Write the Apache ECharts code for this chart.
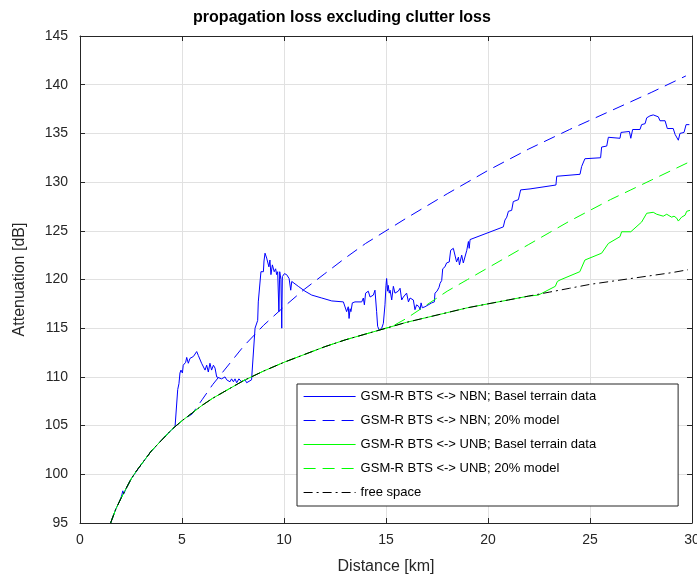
<!DOCTYPE html>
<html>
<head>
<meta charset="utf-8">
<script src="https://cdn.jsdelivr.net/npm/echarts@6/dist/echarts.min.js"></script>
<style>html,body{margin:0;padding:0;background:#fff}#c{width:697px;height:578px}</style>
</head>
<body>
<div id="c"></div>
<script>
// ---- data (distance km, attenuation dB) ----
const fsDist = [1.5,1.75,2,2.25,2.5,2.75,3,3.5,4,4.5,5,5.5,6,6.5,7,7.5,8,9,10,11,12,13,14,15,16,17,18,19,20,21,22,23,24,25,26,27,28,29,29.8];
const fsAtt  = [95.0,96.4,97.5,98.5,99.5,100.3,101.0,102.4,103.5,104.6,105.5,106.3,107.1,107.8,108.4,109.0,109.6,110.6,111.5,112.3,113.1,113.8,114.4,115.0,115.6,116.1,116.6,117.1,117.5,117.9,118.3,118.7,119.1,119.5,119.8,120.1,120.4,120.7,121.0];

const nbnTerrDist = [1.5,1.75,2,2.05,2.1,2.15,2.25,2.5,3,3.5,4,4.5,4.66,4.79,4.85,4.90,4.95,5.02,5.06,5.18,5.23,5.31,5.39,5.47,5.56,5.72,5.80,5.88,5.96,6.05,6.13,6.21,6.29,6.37,6.45,6.54,6.62,6.70,6.94,7.11,7.19,7.27,7.35,7.43,7.52,7.60,7.68,7.79,7.92,8.09,8.17,8.41,8.50,8.58,8.71,8.74,8.82,8.87,8.94,8.99,9.02,9.07,9.12,9.15,9.20,9.26,9.31,9.36,9.43,9.49,9.52,9.59,9.64,9.69,9.75,9.79,9.85,9.89,9.92,10.02,10.13,10.25,10.33,10.38,10.46,10.70,11.03,11.36,11.85,12.34,12.91,13.0,13.07,13.15,13.19,13.24,13.28,13.35,13.42,13.48,13.81,13.89,13.94,14.0,14.13,14.22,14.38,14.46,14.54,14.59,14.67,14.79,14.87,14.95,15.0,15.03,15.08,15.11,15.16,15.2,15.28,15.36,15.44,15.52,15.60,15.69,15.77,15.85,16.01,16.1,16.18,16.34,16.42,16.50,16.62,16.67,16.72,16.78,16.91,17.24,17.37,17.40,17.5,17.6,17.65,17.73,17.78,17.89,17.97,18.1,18.17,18.30,18.38,18.46,18.55,18.6,18.66,18.71,18.79,18.87,18.96,19.04,19.08,19.12,19.2,20.75,20.83,20.92,21.0,21.16,21.24,21.49,21.6,22.06,23.33,23.37,24.51,24.59,24.75,24.84,25.52,25.57,25.82,25.90,26.47,26.52,26.93,27.0,27.09,27.45,27.53,27.70,27.78,27.94,28.10,28.19,28.35,28.43,28.68,28.79,29.08,29.17,29.25,29.33,29.41,29.61,29.71,29.87];
const nbnTerrAtt  = [95.0,96.4,97.5,97.9,98.3,98.0,98.5,99.5,101.0,102.4,103.5,104.6,104.9,108.7,109.3,110.4,110.7,110.4,111.2,111.5,112.0,111.4,111.9,111.7,112.1,112.6,112.2,112.1,111.4,111.6,110.7,111.2,110.5,111.4,110.7,111.2,110.9,110.0,109.8,110.0,109.7,109.8,109.5,109.8,109.5,109.8,109.4,109.8,109.5,109.7,109.4,109.7,109.9,115.0,115.8,117.7,117.7,120.8,120.9,120.8,121.9,122.7,122.5,122.2,122.0,121.3,122.0,120.5,121.5,121.3,120.8,121.1,120.5,120.8,116.7,120.8,120.0,115.0,120.3,120.6,120.5,120.1,118.9,119.8,119.6,119.3,118.8,118.4,118.1,117.8,117.7,117.6,116.7,117.2,116.0,117.0,116.7,117.6,117.4,117.7,117.7,118.1,117.4,118.6,118.8,118.2,118.4,118.9,116.7,115.2,114.8,115.0,115.5,117.4,119.4,120.1,118.8,119.4,118.6,118.9,117.9,119.3,118.6,118.4,118.8,119.1,117.9,118.2,118.6,117.7,118.1,117.9,116.9,117.4,117.2,116.9,117.6,117.1,117.2,117.6,117.7,118.6,118.8,119.2,119.6,119.9,121.1,121.3,121.7,121.8,123.0,123.2,123.1,121.8,122.3,121.5,121.7,122.5,121.7,121.8,123.0,123.9,123.2,124.1,124.2,125.4,126.1,126.4,127.0,127.1,128.0,128.2,129.2,129.3,129.7,130.6,130.8,131.6,132.4,132.5,132.5,133.6,133.7,134.6,134.5,135.1,135.2,134.5,135.4,135.4,135.9,136.0,136.6,136.8,136.9,136.7,136.7,136.3,136.3,135.5,135.5,134.9,134.9,134.3,135.0,135.1,135.9,135.9];

const nbnModelDist = [5.5,6,6.5,7,7.5,8,9,10,11,12,13,14,15,16,18,20,22,24,26,28,29.7];
const nbnModelAtt  = [106.2,107.7,109.2,110.5,111.8,113.1,115.3,117.2,119.0,120.6,122.2,123.7,125.0,126.3,128.8,131.2,133.4,135.4,137.3,139.2,140.9];

const unbTerrDist = [22.47,23.3,23.4,23.53,24.5,24.75,25.57,25.9,26.47,26.55,27.0,27.53,27.78,28.1,28.27,28.43,28.59,28.76,29.0,29.12,29.25,29.33,29.49,29.66,29.74,29.9];
const unbTerrAtt  = [118.4,119.3,119.8,119.95,120.8,122.0,122.7,123.7,124.4,124.9,124.9,125.9,126.8,126.9,126.7,126.6,126.5,126.7,126.4,126.5,126.3,126.0,126.4,126.6,127.0,127.1];

const unbModelDist = [15.4,16,17,18,19,20,21,22,23,24,25,26,27,28,29,29.9];
const unbModelAtt  = [115.3,116.0,117.4,118.8,120.0,121.2,122.4,123.6,124.8,126.0,127.1,128.2,129.2,130.2,131.2,132.1];

const xTicks = [0,5,10,15,20,25,30];
const yTicks = [95,100,105,110,115,120,125,130,135,140,145];

const seriesNames = [
  'GSM-R BTS <-> NBN; Basel terrain data',
  'GSM-R BTS <-> NBN; 20% model',
  'GSM-R BTS <-> UNB; Basel terrain data',
  'GSM-R BTS <-> UNB; 20% model',
  'free space'
];

// ---- build ----
const zip = (a, b) => a.map((v, i) => [v, b[i]]);
const fsPairs = zip(fsDist, fsAtt);
const fsUpTo = lim => fsPairs.filter(p => p[0] < lim);

const nbnTerr = zip(nbnTerrDist, nbnTerrAtt);
const nbnModel = fsUpTo(nbnModelDist[0]).concat(zip(nbnModelDist, nbnModelAtt));
const unbTerr = fsUpTo(unbTerrDist[0]).concat(zip(unbTerrDist, unbTerrAtt));
const unbModel = fsUpTo(unbModelDist[0]).concat(zip(unbModelDist, unbModelAtt));

const FONT = 'Liberation Sans, Arial, Helvetica, sans-serif';
const AX = '#262626';

function mkSeries(name, data, color, type) {
  return {
    name, type: 'line', data, symbol: 'none', showSymbol: false,
    lineStyle: { color, width: 1, type },
    itemStyle: { color },
    emphasis: { disabled: true },
    clip: true
  };
}

const chart = echarts.init(document.getElementById('c'), null, { renderer: 'canvas' });
const baseX = { type: 'value', min: xTicks[0], max: xTicks[xTicks.length - 1], interval: 5 };
const baseY = { type: 'value', min: yTicks[0], max: yTicks[yTicks.length - 1], interval: 5 };
chart.setOption({
  animation: false,
  backgroundColor: '#fff',
  title: {
    text: 'propagation loss excluding clutter loss',
    left: 337, top: 5, textAlign: 'center',
    textStyle: { fontFamily: FONT, fontSize: 16, fontWeight: 'bold', color: '#000' }
  },
  grid: { left: 80, right: 5, top: 36, bottom: 55, show: false, containLabel: false, outerBoundsMode: 'none' },
  legend: {
    orient: 'vertical', left: 297, top: 384,
    itemWidth: 52, itemHeight: 13, itemGap: 11,
    padding: [6, 82, 7, 6],
    backgroundColor: '#fff', borderColor: AX, borderWidth: 1,
    textStyle: { fontFamily: FONT, fontSize: 13, color: '#000' },
    itemStyle: { opacity: 0 },
    lineStyle: { width: 1.2 },
    selectedMode: false,
    data: seriesNames
  },
  xAxis: [
    Object.assign({}, baseX, {
      position: 'bottom',
      name: 'Distance [km]', nameLocation: 'middle', nameGap: 36,
      nameTextStyle: { fontFamily: FONT, fontSize: 16, color: AX },
      axisLine: { show: true, lineStyle: { color: AX, width: 1 } },
      axisTick: { show: true, inside: true, length: 5, lineStyle: { color: AX } },
      axisLabel: { fontFamily: FONT, fontSize: 14, color: AX, margin: 10 },
      splitLine: { show: true, lineStyle: { color: '#e1e1e1', width: 1 } }
    }),
    Object.assign({}, baseX, {
      position: 'top',
      axisLine: { show: true, onZero: false, lineStyle: { color: AX, width: 1 } },
      axisTick: { show: true, inside: true, length: 5, lineStyle: { color: AX } },
      axisLabel: { show: false },
      splitLine: { show: false }
    })
  ],
  yAxis: [
    Object.assign({}, baseY, {
      position: 'left',
      name: 'Attenuation [dB]', nameLocation: 'middle', nameGap: 52, nameRotate: 90,
      nameTextStyle: { fontFamily: FONT, fontSize: 16, color: AX },
      axisLine: { show: true, lineStyle: { color: AX, width: 1 } },
      axisTick: { show: true, inside: true, length: 5, lineStyle: { color: AX } },
      axisLabel: { fontFamily: FONT, fontSize: 14, color: AX, margin: 12 },
      splitLine: { show: true, lineStyle: { color: '#e1e1e1', width: 1 } }
    }),
    Object.assign({}, baseY, {
      position: 'right',
      axisLine: { show: true, onZero: false, lineStyle: { color: AX, width: 1 } },
      axisTick: { show: true, inside: true, length: 5, lineStyle: { color: AX } },
      axisLabel: { show: false },
      splitLine: { show: false }
    })
  ],
  series: [
    mkSeries(seriesNames[0], nbnTerr, '#0000ff', 'solid'),
    mkSeries(seriesNames[1], nbnModel, '#0000ff', [12, 7]),
    mkSeries(seriesNames[2], unbTerr, '#00ff00', 'solid'),
    mkSeries(seriesNames[3], unbModel, '#00ff00', [12, 7]),
    mkSeries(seriesNames[4], fsPairs, '#000000', [9, 4, 2, 4])
  ]
});
</script>
</body>
</html>
